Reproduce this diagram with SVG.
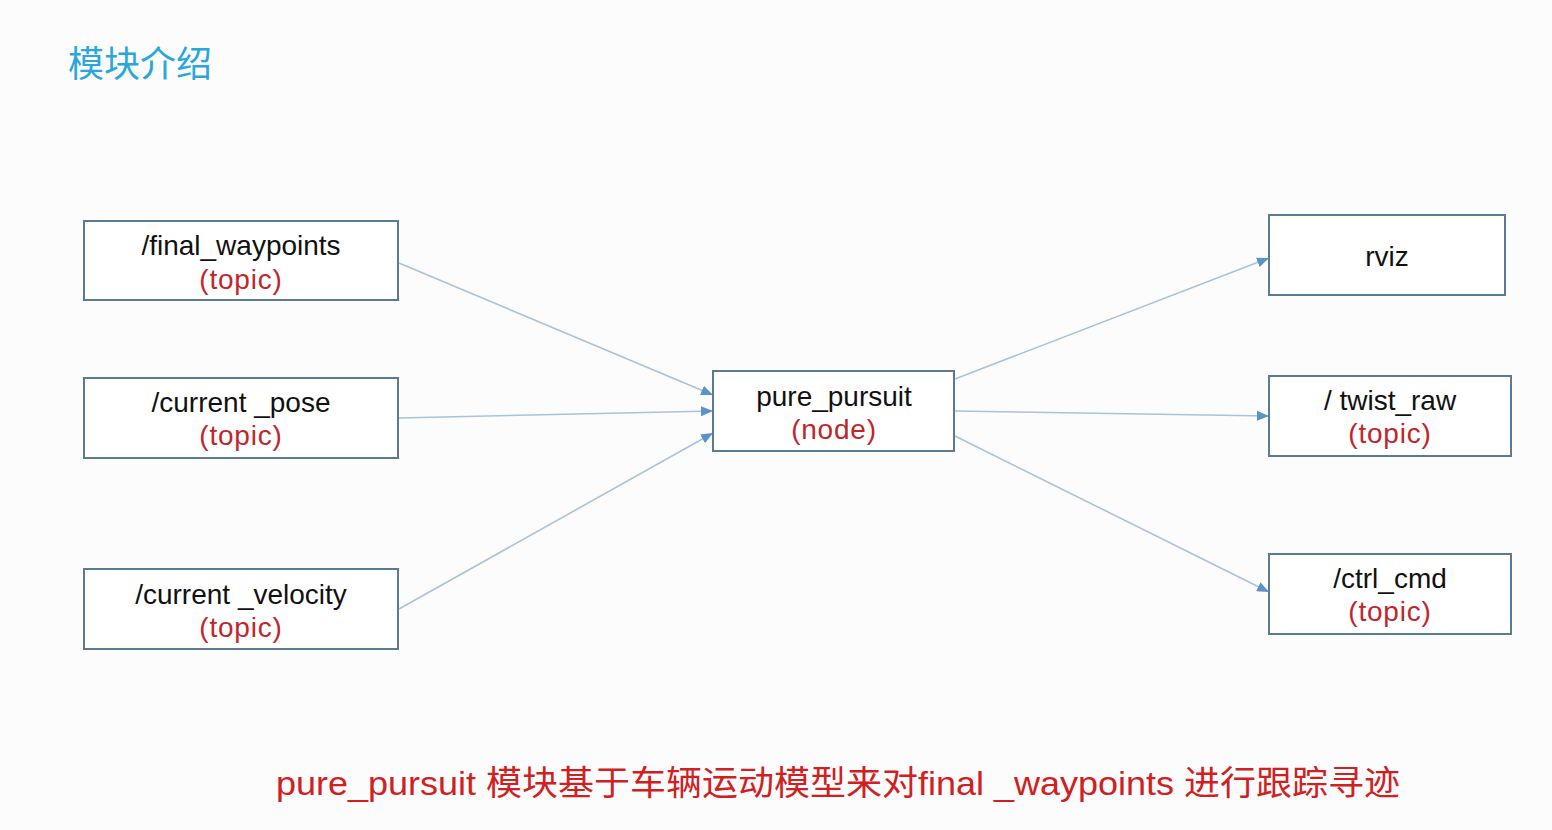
<svg xmlns="http://www.w3.org/2000/svg" width="1552" height="830" viewBox="0 0 1552 830">
<defs>
<marker id="arr" markerWidth="12" markerHeight="10" refX="12" refY="5" orient="auto" markerUnits="userSpaceOnUse">
<path d="M0,0 L12,5 L0,10 Z" fill="#5b93c9"/>
</marker>
<style>
.box{fill:#ffffff;stroke:#5b7a93;stroke-width:2}
.lbl{font-family:"Liberation Sans",Arial,sans-serif;font-size:28px;fill:#111111;text-anchor:middle}
.sub{font-family:"Liberation Sans",Arial,sans-serif;font-size:28px;fill:#c0262b;text-anchor:middle;letter-spacing:0.8px}
.con{stroke:#a8c3da;stroke-width:1.6;fill:none;marker-end:url(#arr)}
</style>
</defs>
<rect width="1552" height="830" fill="#fcfcfc"/>
<text x="68" y="77" font-family="'Noto Sans CJK SC',sans-serif" font-size="36" fill="#2aa7da">模块介绍</text>

<g id="connectors">
<line class="con" x1="399" y1="263" x2="713" y2="395"/>
<line class="con" x1="399" y1="418" x2="713" y2="411"/>
<line class="con" x1="399" y1="609" x2="713" y2="433"/>
<line class="con" x1="955" y1="379" x2="1269" y2="258"/>
<line class="con" x1="955" y1="411" x2="1269" y2="416"/>
<line class="con" x1="955" y1="436" x2="1269" y2="592"/>
</g>

<g id="final_waypoints">
<rect class="box" x="84" y="221" width="314" height="79"/>
<text class="lbl" x="241" y="255">/final_waypoints</text>
<text class="sub" x="241" y="289">(topic)</text>
</g>
<g id="current_pose">
<rect class="box" x="84" y="378" width="314" height="80"/>
<text class="lbl" x="241" y="412">/current _pose</text>
<text class="sub" x="241" y="445">(topic)</text>
</g>
<g id="current_velocity">
<rect class="box" x="84" y="569" width="314" height="80"/>
<text class="lbl" x="241" y="604">/current _velocity</text>
<text class="sub" x="241" y="637">(topic)</text>
</g>
<g id="pure_pursuit">
<rect class="box" x="713" y="371" width="241" height="80"/>
<text class="lbl" x="834" y="406">pure_pursuit</text>
<text class="sub" x="834" y="439">(node)</text>
</g>
<g id="rviz">
<rect class="box" x="1269" y="215" width="236" height="80"/>
<text class="lbl" x="1387" y="266">rviz</text>
</g>
<g id="twist_raw">
<rect class="box" x="1269" y="376" width="242" height="80"/>
<text class="lbl" x="1390" y="410">/ twist_raw</text>
<text class="sub" x="1390" y="443">(topic)</text>
</g>
<g id="ctrl_cmd">
<rect class="box" x="1269" y="554" width="242" height="80"/>
<text class="lbl" x="1390" y="588">/ctrl_cmd</text>
<text class="sub" x="1390" y="621">(topic)</text>
</g>

<text x="838" y="795" text-anchor="middle" font-family="'Liberation Sans','Noto Sans CJK SC',sans-serif" font-size="34" fill="#d0201f" textLength="1124" lengthAdjust="spacingAndGlyphs">pure_pursuit 模块基于车辆运动模型来对final _waypoints 进行跟踪寻迹</text>
</svg>
